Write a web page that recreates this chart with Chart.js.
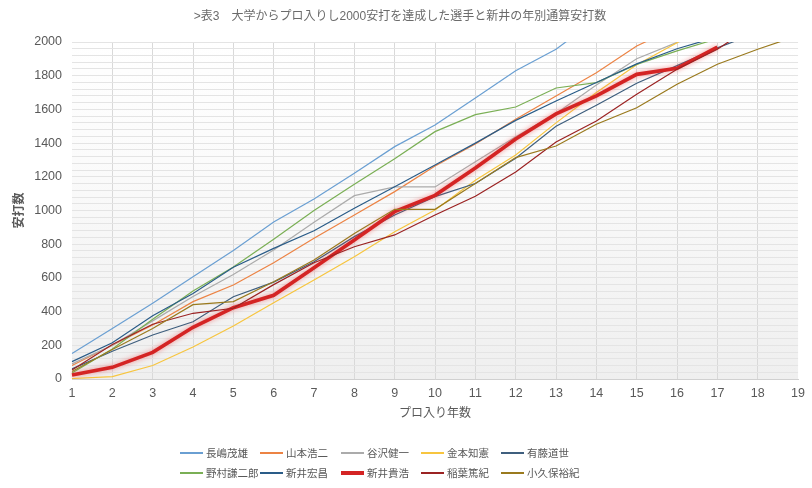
<!DOCTYPE html>
<html>
<head>
<meta charset="utf-8">
<script src="https://cdn.jsdelivr.net/npm/chart.js@4.4.1/dist/chart.umd.min.js"></script>
<style>
  html, body { margin: 0; padding: 0; background: #ffffff; }
  #wrap { position: relative; width: 812px; height: 488px; }
  #legend { position: absolute; left: 0; top: 0; width: 812px; height: 488px; pointer-events: none;
    font-family: "Noto Sans CJK JP", sans-serif; font-size: 10.5px; color: #595959; }
  .item { position: absolute; height: 14px; white-space: nowrap; }
  .item .ln { position: absolute; left: 0; width: 23px; }
  .item .tx { position: absolute; left: 26px; top: 0; line-height: 14px; }
</style>
</head>
<body>
<div id="wrap">
  <canvas id="c" width="812" height="488"></canvas>
  <div id="legend"></div>
</div>
<script>
const years = ['1','2','3','4','5','6','7','8','9','10','11','12','13','14','15','16','17','18','19'];

const names = ['長嶋茂雄','山本浩二','谷沢健一','金本知憲','有藤道世','野村謙二郎','新井宏昌','新井貴浩','稲葉篤紀','小久保裕紀'];

const nagashima = [152, 300, 450, 607, 762, 932, 1068, 1221, 1379, 1507, 1668, 1830, 1957, 2135];
const yamamoto  = [80, 200, 320, 459, 558, 690, 835, 973, 1112, 1264, 1395, 1541, 1680, 1818, 1976, 2090];
const tanizawa  = [90, 200, 345, 490, 620, 766, 930, 1088, 1140, 1140, 1290, 1438, 1575, 1745, 1901, 1998, 2062];
const kanemoto  = [3, 14, 80, 190, 315, 453, 588, 726, 874, 1003, 1180, 1330, 1520, 1700, 1865, 1995, 2170];
const aritou    = [60, 165, 261, 340, 488, 575, 696, 845, 973, 1082, 1160, 1310, 1500, 1625, 1755, 1860, 1965, 2057];
const nomura    = [36, 178, 355, 522, 665, 830, 1000, 1156, 1307, 1468, 1569, 1614, 1727, 1759, 1867, 1947, 2020];
const araiH     = [103, 215, 375, 508, 663, 775, 880, 1013, 1141, 1270, 1400, 1535, 1650, 1760, 1870, 1960, 2030, 2038];
const araiT     = [24, 69, 158, 307, 423, 497, 660, 825, 993, 1090, 1252, 1424, 1573, 1680, 1808, 1844, 1970];
const inaba     = [53, 205, 325, 390, 420, 560, 690, 785, 855, 973, 1085, 1228, 1407, 1531, 1690, 1838, 1957, 2115];
const kokubo    = [45, 175, 300, 441, 459, 577, 706, 864, 1007, 1007, 1160, 1314, 1383, 1512, 1610, 1749, 1868, 1957, 2038];

const seriesData = [nagashima, yamamoto, tanizawa, kanemoto, aritou, nomura, araiH, araiT, inaba, kokubo];
const colors = ['#6A9FD2', '#EC8344', '#ABABAB', '#F7C53F', '#3F5F7E', '#7AAF55', '#2A5C88', '#D42424', '#9B2323', '#9A7A1E'];
const widths = [1.2, 1.2, 1.2, 1.2, 1.2, 1.2, 1.2, 3.6, 1.2, 1.2];

const yTickLabels = ['0','200','400','600','800','1000','1200','1400','1600','1800','2000'];

const FONT = '"Liberation Sans", "Noto Sans CJK JP", sans-serif';
const N = seriesData.length;

const datasets = seriesData.map((d, i) => ({
  label: names[i],
  data: d,
  borderColor: colors[i],
  backgroundColor: colors[i],
  borderWidth: widths[i],
  pointRadius: 0,
  pointHoverRadius: 0,
  tension: 0,
  fill: false,
  order: N - i
}));

const bgPlugin = {
  id: 'bg',
  beforeDraw(chart) {
    const {ctx, chartArea: a} = chart;
    const g = ctx.createLinearGradient(0, a.top, 0, a.bottom);
    g.addColorStop(0, '#ffffff');
    g.addColorStop(0.35, '#fbfbfb');
    g.addColorStop(1, '#efefef');
    ctx.save();
    ctx.fillStyle = g;
    ctx.fillRect(a.left, a.top, a.right - a.left, a.bottom - a.top);
    ctx.restore();
  },
  beforeDatasetDraw(chart, args) {
    if (args.index === 7) {
      const ctx = chart.ctx;
      ctx.save();
      ctx.shadowColor = 'rgba(235,60,60,0.55)';
      ctx.shadowBlur = 5;
    }
  },
  afterDatasetDraw(chart, args) {
    if (args.index === 7) chart.ctx.restore();
  }
};

const chart = new Chart(document.getElementById('c'), {
  type: 'line',
  data: { labels: years, datasets },
  plugins: [bgPlugin],
  options: {
    responsive: false,
    animation: false,
    events: [],
    layout: { padding: { left: 0, right: 12, top: 0, bottom: 63 } },
    plugins: {
      legend: { display: false },
      tooltip: { enabled: false },
      title: {
        display: true,
        text: '>表3　大学からプロ入りし2000安打を達成した選手と新井の年別通算安打数',
        color: '#6b6b6b',
        font: { family: FONT, size: 12, weight: 'normal' },
        padding: { top: 9, bottom: 18.6 }
      }
    },
    scales: {
      x: {
        type: 'category',
        offset: false,
        grid: {
          display: true,
          drawTicks: false,
          color: (c) => (c.index === 0 || c.index === years.length - 1) ? 'rgba(0,0,0,0)' : '#d9d9d9',
          lineWidth: 1
        },
        border: { display: true, color: '#d0d0d0' },
        ticks: { color: '#595959', font: { family: FONT, size: 12.5 }, padding: 7, maxRotation: 0, autoSkip: false },
        title: { display: true, text: 'プロ入り年数', color: '#595959', font: { family: FONT, size: 12, weight: 'normal' }, padding: { top: 0, bottom: 4 } },
        afterFit(s) { s.height = 46; }
      },
      y: {
        min: 0,
        max: 2000,
        grid: { display: true, drawTicks: false, color: '#e4e4e4', lineWidth: 1 },
        border: { display: false },
        ticks: {
          stepSize: 40,
          autoSkip: false,
          color: '#595959',
          font: { family: FONT, size: 12.5 },
          padding: 10,
          callback: (v) => yTickLabels.includes(String(v)) ? String(v) : ''
        },
        title: { display: true, text: '安打数', color: '#595959', font: { family: FONT, size: 12, weight: 'bold' }, padding: { top: 12, bottom: 0 } },
        afterFit(s) { s.width = 72; }
      }
    }
  }
});

// HTML legend built from the chart's datasets (Excel-like 5 column grid)
const leg = document.getElementById('legend');
chart.data.datasets.forEach((ds, i) => {
  const row = Math.floor(i / 5), col = i % 5;
  const it = document.createElement('div');
  it.className = 'item';
  it.style.left = Math.round(180 + col * 80.3) + 'px';
  it.style.top = Math.round(446 + row * 20.3) + 'px';
  const ln = document.createElement('div');
  ln.className = 'ln';
  const h = ds.borderWidth > 2 ? 4 : 1.5;
  ln.style.height = h + 'px';
  ln.style.top = Math.round(7 - h / 2) + 'px';
  ln.style.background = ds.borderColor;
  const tx = document.createElement('span');
  tx.className = 'tx';
  tx.textContent = ds.label;
  it.appendChild(ln);
  it.appendChild(tx);
  leg.appendChild(it);
});
</script>
</body>
</html>
